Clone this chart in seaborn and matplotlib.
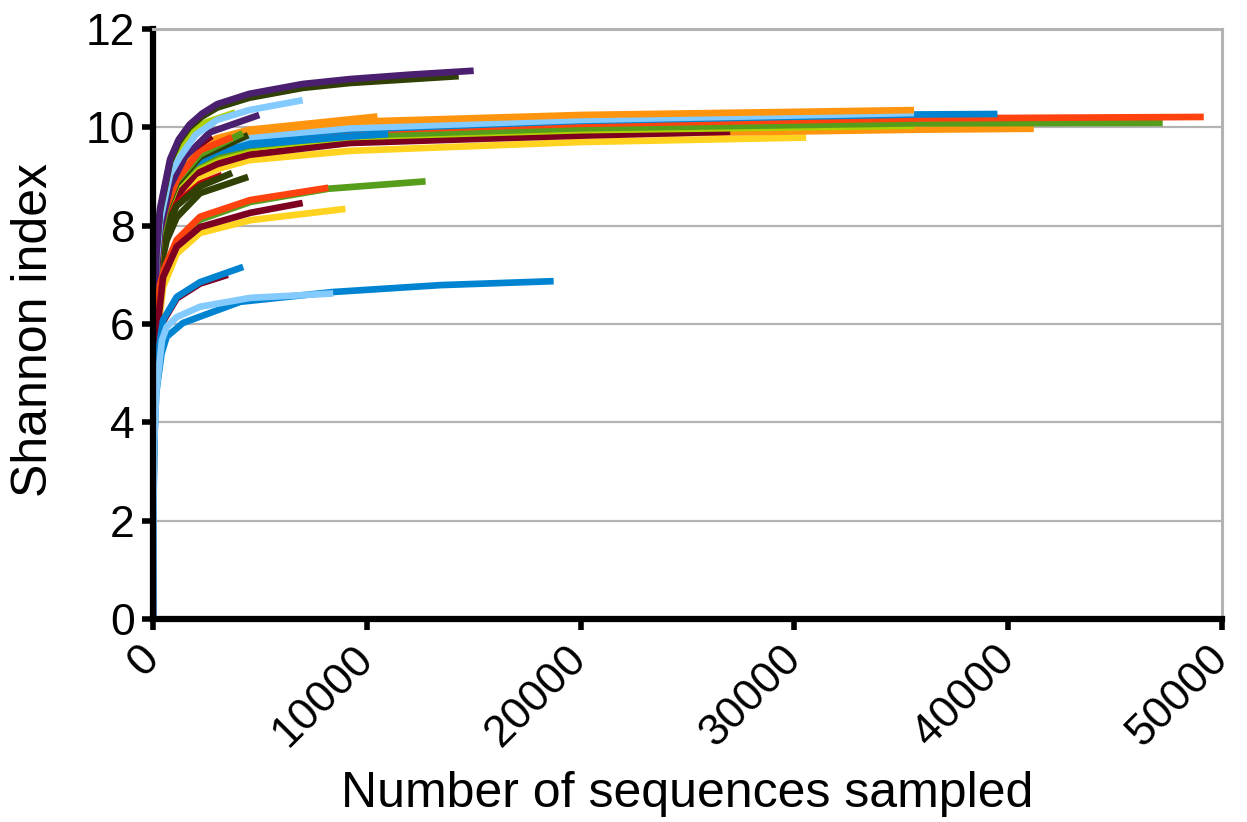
import numpy as np
import pandas as pd
import matplotlib
matplotlib.use("Agg")
import matplotlib.pyplot as plt
import seaborn as sns

# LibreOffice default chart palette
PURPLE = "#4b1f6f"
DKGREEN = "#314004"
LIME = "#aecf00"
LTBLUE = "#83caff"
ORANGE = "#ff950e"
BLUE = "#0084d1"
REDOR = "#ff420e"
GREEN = "#579d1c"
MAROON = "#7e0021"
YELLOW = "#ffd320"
RED = "#c5000b"

# Rarefaction curves: number of sequences sampled (x) vs Shannon index (y)
# --- long, flat group (~10) ---
yellow_long_x = [0, 20, 60, 150, 330, 640, 1100, 2000, 3000, 4500, 9200, 20000, 30550]
yellow_long_y = [0, 2.8, 4.7, 6.1, 7.2, 7.95, 8.45, 8.95, 9.15, 9.33, 9.52, 9.7, 9.79]
orange_low_x = [0, 20, 60, 150, 330, 640, 1100, 2000, 3000, 4500, 9200, 20000, 35600, 41200]
orange_low_y = [0, 3.1, 5.0, 6.4, 7.5, 8.2, 8.7, 9.1, 9.3, 9.48, 9.7, 9.85, 9.95, 9.97]
maroon_long_x = [0, 20, 60, 150, 330, 640, 1100, 2000, 3000, 4500, 9200, 20000, 27000]
maroon_long_y = [0, 3.0, 4.9, 6.3, 7.45, 8.15, 8.6, 9.05, 9.25, 9.44, 9.68, 9.83, 9.91]
lime_long_x = [0, 20, 60, 150, 330, 640, 1100, 2000, 3000, 4500, 9200, 20000, 35600]
lime_long_y = [0, 3.2, 5.1, 6.5, 7.6, 8.3, 8.8, 9.2, 9.4, 9.58, 9.8, 9.94, 10.03]
green_long_x = [0, 20, 60, 150, 330, 640, 1100, 2000, 3000, 4500, 9200, 20000, 35600, 47230]
green_long_y = [0, 3.2, 5.2, 6.6, 7.7, 8.4, 8.85, 9.25, 9.45, 9.62, 9.83, 9.98, 10.08, 10.09]
redor_long_x = [0, 20, 60, 150, 330, 640, 1100, 2000, 3000, 4500, 9200, 20000, 35600, 49150]
redor_long_y = [0, 3.3, 5.3, 6.7, 7.8, 8.5, 8.95, 9.35, 9.55, 9.72, 9.93, 10.07, 10.18, 10.21]
blue_long_x = [0, 20, 60, 150, 330, 640, 1100, 2000, 3000, 4500, 9200, 20000, 35600, 39500]
blue_long_y = [0, 3.3, 5.3, 6.7, 7.8, 8.5, 8.95, 9.35, 9.55, 9.75, 9.95, 10.13, 10.26, 10.27]
ltblue_long_x = [0, 20, 60, 150, 330, 640, 1100, 2000, 3000, 4500, 9200, 20000, 35600]
ltblue_long_y = [0, 3.4, 5.4, 6.8, 7.9, 8.55, 9.0, 9.4, 9.6, 9.8, 9.98, 10.15, 10.29]
orange_top_x = [0, 20, 60, 150, 330, 640, 1100, 2000, 3000, 4500, 9200, 20000, 35600]
orange_top_y = [0, 3.5, 5.5, 6.9, 7.95, 8.6, 9.1, 9.5, 9.74, 9.91, 10.11, 10.25, 10.35]
blue_short_x = [0, 20, 60, 150, 330, 640, 1400, 3000, 4500, 9200, 11000]
blue_short_y = [0, 3.3, 5.3, 6.7, 7.77, 8.46, 9.13, 9.5, 9.64, 9.81, 9.86]
orange_short_x = [0, 20, 60, 150, 330, 640, 1100, 2000, 3000, 4500, 10500]
orange_short_y = [0, 3.6, 5.6, 7.0, 8.0, 8.65, 9.15, 9.55, 9.78, 9.95, 10.22]

# --- short curves in the middle cluster ---
dkgreen_c1_x = [0, 20, 60, 150, 330, 640, 1110, 2200, 4450]
dkgreen_c1_y = [0, 2.9, 4.7, 6.1, 7.1, 7.7, 8.17, 8.66, 8.99]
red_c_x = [0, 20, 60, 150, 330, 640, 1100, 2200, 3230]
red_c_y = [0, 3.0, 4.9, 6.3, 7.4, 8.0, 8.45, 8.85, 9.03]
dkgreen_c2_x = [0, 20, 60, 150, 330, 640, 1100, 2200, 3700]
dkgreen_c2_y = [0, 3.0, 4.9, 6.3, 7.35, 7.95, 8.4, 8.8, 9.07]
dkgreen_c3_x = [0, 20, 60, 150, 330, 640, 1100, 2200, 4450]
dkgreen_c3_y = [0, 3.3, 5.3, 6.7, 7.75, 8.35, 8.85, 9.4, 9.84]
green_c_x = [0, 20, 60, 150, 330, 640, 1100, 2200, 4200]
green_c_y = [0, 3.3, 5.3, 6.8, 7.8, 8.4, 8.9, 9.45, 9.88]
redor_c_x = [0, 20, 60, 150, 330, 560, 1110, 2200, 3700]
redor_c_y = [0, 3.4, 5.4, 6.9, 7.9, 8.32, 8.93, 9.53, 9.8]
maroon_c_x = [0, 20, 60, 150, 330, 640, 1030, 1500, 2750]
maroon_c_y = [0, 3.4, 5.5, 7.0, 8.0, 8.6, 9.19, 9.45, 9.82]

# --- top group (~11) ---
lime_top_x = [0, 20, 60, 150, 330, 800, 1700, 2500, 3850]
lime_top_y = [0, 3.9, 5.9, 7.3, 8.2, 9.2, 9.9, 10.1, 10.3]
purple_short_x = [0, 20, 60, 150, 330, 800, 1500, 2670, 4970]
purple_short_y = [0, 3.6, 5.6, 7.0, 7.9, 8.8, 9.4, 9.9, 10.25]
ltblue_top_x = [0, 20, 60, 150, 330, 800, 1265, 2000, 3000, 4500, 7000]
ltblue_top_y = [0, 3.8, 5.8, 7.2, 8.1, 9.05, 9.4, 9.85, 10.15, 10.35, 10.55]
dkgreen_top_x = [0, 20, 60, 150, 330, 800, 1200, 1700, 2300, 3000, 4500, 7000, 9200, 14300]
dkgreen_top_y = [0, 4.0, 6.0, 7.4, 8.3, 9.3, 9.7, 10.0, 10.22, 10.4, 10.6, 10.8, 10.9, 11.04]
purple_top_x = [0, 20, 60, 150, 330, 800, 1200, 1700, 2300, 3000, 4500, 7000, 9200, 12000, 15000]
purple_top_y = [0, 4.0, 6.0, 7.4, 8.35, 9.35, 9.75, 10.05, 10.28, 10.47, 10.68, 10.88, 10.98, 11.07, 11.15]

# --- lower group (~8.5) ---
green_low_x = [0, 20, 60, 150, 330, 560, 1110, 2200, 4545, 8200, 12750]
green_low_y = [0, 2.7, 4.5, 5.9, 6.75, 7.1, 7.65, 8.12, 8.48, 8.75, 8.9]
redor_low_x = [0, 20, 60, 150, 330, 560, 1110, 2200, 4545, 8200]
redor_low_y = [0, 2.8, 4.6, 6.0, 6.8, 7.16, 7.71, 8.18, 8.52, 8.77]
yellow_low_x = [0, 20, 60, 150, 470, 1110, 2200, 4545, 9000]
yellow_low_y = [0, 2.5, 4.2, 5.5, 6.75, 7.43, 7.85, 8.11, 8.34]
maroon_low_x = [0, 20, 60, 150, 470, 1110, 2200, 4545, 7000]
maroon_low_y = [0, 2.6, 4.3, 5.7, 6.95, 7.57, 7.97, 8.26, 8.46]

# --- lowest group (~7) ---
maroon_mid_x = [0, 20, 60, 150, 470, 1110, 2200, 3500]
maroon_mid_y = [0, 2.4, 4.0, 5.2, 6.05, 6.52, 6.82, 7.0]
blue_mid_x = [0, 20, 60, 150, 330, 470, 1110, 2200, 4220]
blue_mid_y = [0, 2.4, 3.9, 5.0, 5.67, 6.08, 6.55, 6.85, 7.16]
blue_bot_x = [0, 20, 60, 150, 400, 640, 1400, 4080, 8430, 13450, 18740]
blue_bot_y = [0, 2.2, 3.6, 4.6, 5.4, 5.74, 6.02, 6.45, 6.65, 6.79, 6.87]
ltblue_bot_x = [0, 20, 60, 150, 420, 640, 1110, 2200, 4545, 8430]
ltblue_bot_y = [0, 2.2, 3.6, 4.6, 5.67, 5.94, 6.14, 6.35, 6.53, 6.62]

# draw order = list order (later on top)
series = [
    ("yellow_long", yellow_long_x, yellow_long_y, YELLOW),
    ("orange_low", orange_low_x, orange_low_y, ORANGE),
    ("maroon_long", maroon_long_x, maroon_long_y, MAROON),
    ("lime_long", lime_long_x, lime_long_y, LIME),
    ("green_long", green_long_x, green_long_y, GREEN),
    ("redor_long", redor_long_x, redor_long_y, REDOR),
    ("blue_long", blue_long_x, blue_long_y, BLUE),
    ("ltblue_long", ltblue_long_x, ltblue_long_y, LTBLUE),
    ("orange_top", orange_top_x, orange_top_y, ORANGE),
    ("blue_short", blue_short_x, blue_short_y, BLUE),
    ("orange_short", orange_short_x, orange_short_y, ORANGE),
    ("dkgreen_c1", dkgreen_c1_x, dkgreen_c1_y, DKGREEN),
    ("red_c", red_c_x, red_c_y, RED),
    ("dkgreen_c2", dkgreen_c2_x, dkgreen_c2_y, DKGREEN),
    ("dkgreen_c3", dkgreen_c3_x, dkgreen_c3_y, DKGREEN),
    ("green_c", green_c_x, green_c_y, GREEN),
    ("redor_c", redor_c_x, redor_c_y, REDOR),
    ("maroon_c", maroon_c_x, maroon_c_y, MAROON),
    ("lime_top", lime_top_x, lime_top_y, LIME),
    ("purple_short", purple_short_x, purple_short_y, PURPLE),
    ("ltblue_top", ltblue_top_x, ltblue_top_y, LTBLUE),
    ("dkgreen_top", dkgreen_top_x, dkgreen_top_y, DKGREEN),
    ("purple_top", purple_top_x, purple_top_y, PURPLE),
    ("green_low", green_low_x, green_low_y, GREEN),
    ("redor_low", redor_low_x, redor_low_y, REDOR),
    ("yellow_low", yellow_low_x, yellow_low_y, YELLOW),
    ("maroon_low", maroon_low_x, maroon_low_y, MAROON),
    ("maroon_mid", maroon_mid_x, maroon_mid_y, MAROON),
    ("blue_mid", blue_mid_x, blue_mid_y, BLUE),
    ("blue_bot", blue_bot_x, blue_bot_y, BLUE),
    ("ltblue_bot", ltblue_bot_x, ltblue_bot_y, LTBLUE),
]

rows = []
for name, xs, ys, _ in series:
    for xv, yv in zip(xs, ys):
        rows.append((name, xv, yv))
df = pd.DataFrame(rows, columns=["sample", "sequences", "shannon"])
palette = {name: col for name, _, _, col in series}
order = [s[0] for s in series]

sns.set_style("white")
plt.rcParams["font.family"] = ["Liberation Sans", "DejaVu Sans"]
plt.rcParams["text.color"] = "black"
plt.rcParams["axes.labelcolor"] = "black"
plt.rcParams["xtick.color"] = "black"
plt.rcParams["ytick.color"] = "black"

fig = plt.figure(figsize=(12.47, 8.22), dpi=100)
ax = fig.add_axes([0.1227, 0.247, 0.8572, 0.7178])

sns.lineplot(data=df, x="sequences", y="shannon", hue="sample", hue_order=order,
             palette=palette, estimator=None, legend=False, linewidth=4.8,
             solid_capstyle="butt", solid_joinstyle="round", ax=ax)

ax.set_xlim(0, 50000)
ax.set_ylim(0, 12)
ax.set_xticks(np.arange(0, 50001, 10000))
ax.set_yticks(np.arange(0, 13, 2))
ax.yaxis.grid(True, color="#b3b3b3", linewidth=1.6)
ax.xaxis.grid(False)
ax.set_axisbelow(True)

for side in ["left", "bottom"]:
    ax.spines[side].set_color("black")
    ax.spines[side].set_linewidth(4.5)
for side in ["top", "right"]:
    ax.spines[side].set_color("#b3b3b3")
    ax.spines[side].set_linewidth(2.2)

ax.tick_params(axis="both", which="major", length=8, width=4, color="black",
               labelsize=32, direction="out", bottom=True, left=True)
ax.tick_params(axis="y", pad=5)
ax.tick_params(axis="x", pad=16)
plt.setp(ax.get_xticklabels(), rotation=45, ha="right", va="center",
         rotation_mode="anchor")

ax.set_xlabel("Number of sequences sampled", fontsize=36)
ax.set_ylabel("Shannon index", fontsize=36)
ax.xaxis.set_label_coords(0.5, -0.258)
ax.yaxis.set_label_coords(-0.09, 0.49)

fig.savefig("out.png", dpi=100)
